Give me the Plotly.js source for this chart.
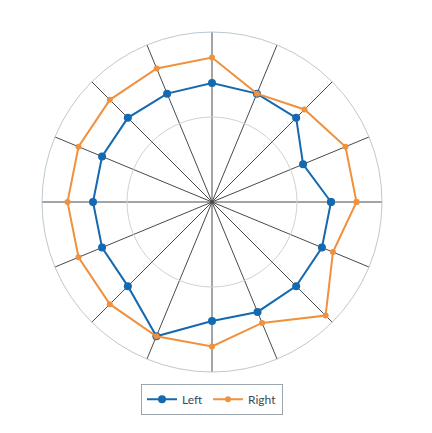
<!DOCTYPE html>
<html>
<head>
<meta charset="utf-8">
<script src="https://cdn.plot.ly/plotly-3.0.1.min.js"></script>
<style>
  html, body { margin: 0; padding: 0; background: #fff; }
  #chart { width: 432px; height: 433px; }
</style>
</head>
<body>
<div id="chart"></div>
<script>
"use strict";

// 16 yön, 22.5 derece aralıkla
const angles = [0, 22.5, 45, 67.5, 90, 112.5, 135, 157.5, 180, 202.5, 225, 247.5, 270, 292.5, 315, 337.5];
const leftValues = [7.0, 5.8, 7.0, 6.9, 7.0, 6.9, 7.0, 7.0, 7.0, 7.0, 7.0, 8.55, 7.0, 7.0, 7.0, 7.0];
const rightValues = [8.5, 8.5, 7.7, 6.9, 8.5, 8.5, 8.5, 8.5, 8.5, 8.5, 8.5, 8.55, 8.5, 7.7, 9.45, 7.7];
const seriesNames = ['Left', 'Right'];

// kapalı çizgi için ilk noktayı sona ekle
const closeLoop = arr => [...arr, arr[0]];

const traces = [
    {
        type: 'scatterpolar',
        mode: 'lines+markers',
        name: seriesNames[0],
        r: closeLoop(leftValues),
        theta: closeLoop(angles),
        line: { color: '#1569b0', width: 2 },
        marker: { color: '#1569b0', size: 8, symbol: 'circle' }
    },
    {
        type: 'scatterpolar',
        mode: 'lines+markers',
        name: seriesNames[1],
        r: closeLoop(rightValues),
        theta: closeLoop(angles),
        line: { color: '#f0913f', width: 2 },
        marker: { color: '#f0913f', size: 6, symbol: 'circle' }
    }
];

const layout = {
    width: 432,
    height: 433,
    margin: { l: 42, r: 50, t: 32, b: 61 },
    paper_bgcolor: '#ffffff',
    showlegend: true,
    legend: {
        orientation: 'h',
        x: 0.5,
        xanchor: 'center',
        y: -0.08,
        yanchor: 'middle',
        bordercolor: '#9aa5ad',
        borderwidth: 1,
        font: { family: 'Lato, "Open Sans", sans-serif', size: 12, color: '#3b4a57' },
        itemwidth: 30
    },
    polar: {
        domain: { x: [0, 1], y: [0, 1] },
        bgcolor: '#ffffff',
        radialaxis: {
            range: [0, 10],
            dtick: 5,
            showticklabels: false,
            ticks: '',
            showline: false,
            gridcolor: '#d2d2d2',
            gridwidth: 1
        },
        angularaxis: {
            rotation: 0,
            direction: 'counterclockwise',
            dtick: 22.5,
            showticklabels: false,
            ticks: '',
            showline: true,
            linecolor: '#bcc8d0',
            linewidth: 1,
            gridcolor: '#4a4a4a',
            gridwidth: 1
        }
    }
};

Plotly.newPlot('chart', traces, layout, { displayModeBar: false, staticPlot: true });
</script>
</body>
</html>
